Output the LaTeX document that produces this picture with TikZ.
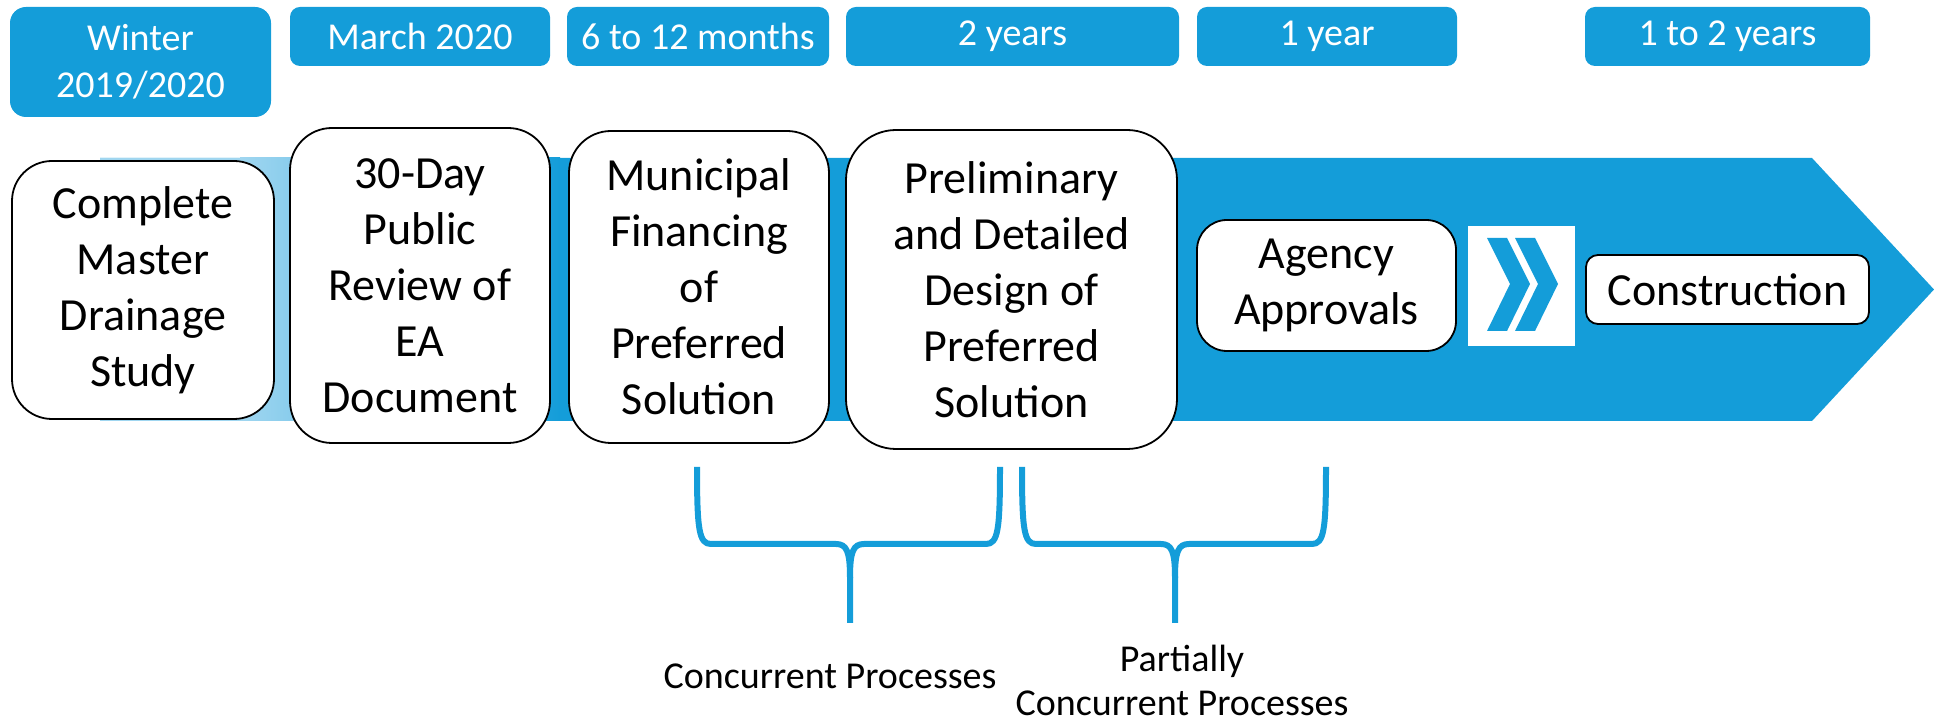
\documentclass[tikz,border=0pt]{standalone}
\usepackage{fontspec}
\setmainfont{Carlito}
\definecolor{flowblue}{RGB}{20,157,217}
\definecolor{flowlight}{RGB}{160,214,240}
\tikzset{
  stage/.style={rectangle, rounded corners=20pt, draw=black, line width=0.9pt,
    fill=white, align=center, inner sep=2pt, font=\fontsize{23}{28}\selectfont},
  period/.style={rectangle, rounded corners=5pt, fill=flowblue, text=white,
    align=center, inner sep=0pt, font=\fontsize{19}{23.5}\selectfont},
  brace/.style={draw=flowblue, line width=3pt, line join=round},
  note/.style={align=center, font=\fontsize{19}{22}\selectfont},
}

\begin{document}
\begin{tikzpicture}[x=0.5pt, y=-0.5pt]
  \useasboundingbox (0,0) rectangle (1934,726);

  % big arrow behind the stages
  \fill[flowblue] (100,158) -- (1812,158) -- (1934,289.5) -- (1812,421) -- (100,421) -- cycle;
  \fill[flowlight] (100,158) rectangle (240,421);
  \shade[left color=flowlight, right color=flowblue] (240,158) rectangle (560,421);

  % time spans on top
  \node[period, rounded corners=8pt, minimum width=130.5pt, minimum height=55pt] (winter) at (140.5,62) {Winter\\2019/2020};
  \node[period, minimum width=130pt, minimum height=29.5pt] (march) at (420,36.5) {March 2020};
  \node[period, minimum width=131pt, minimum height=29.5pt] (months) at (698,36.5) {6 to 12 months};
  \node[period, minimum width=166.5pt, minimum height=29.5pt] (twoyears) at (1012.5,36.5) {2 years};
  \node[period, minimum width=130pt, minimum height=29.5pt] (oneyear) at (1327,36.5) {1 year};
  \node[period, minimum width=142.5pt, minimum height=29.5pt] (onetotwo) at (1727.5,36.5) {1 to 2 years};

  % stages
  \node[stage, minimum width=131pt, minimum height=129pt] (study) at (143,290) {Complete\\Master\\Drainage\\Study};
  \node[stage, rounded corners=21pt, minimum width=130pt, minimum height=157.5pt] (review) at (420,285.5) {30-Day\\Public\\Review of\\EA\\Document};
  \node[stage, rounded corners=21pt, minimum width=130pt, minimum height=156pt] (financing) at (699,287) {Municipal\\Financing\\of\\Preferred\\Solution};
  \node[stage, rounded corners=25pt, minimum width=165.5pt, minimum height=159.5pt] (design) at (1011.5,289.5) {Preliminary\\and Detailed\\Design of\\Preferred\\Solution};
  \node[stage, rounded corners=15pt, minimum width=129.5pt, minimum height=65.5pt] (approvals) at (1326.5,285.5) {Agency\\Approvals};
  \node[fill=white, minimum width=53.5pt, minimum height=60pt, inner sep=0pt] (next) at (1521.5,286) {};
  \node[stage, rounded corners=6pt, minimum width=141.5pt, minimum height=34.5pt] (construction) at (1727.5,289.5) {Construction};

  % double chevron
  \foreach \dx in {0,28}
    \fill[flowblue] (1487+\dx,238) -- (1507+\dx,238) -- (1530+\dx,284) -- (1507+\dx,331)
      -- (1487+\dx,331) -- (1510+\dx,284) -- cycle;

  % braces under the overlapping stages
  \foreach \l/\m/\r in {697/850/1000, 1022/1175/1326} {
    \draw[brace] (\l,467) .. controls (\l,530) and (\l+2,544) .. (\l+14,544) -- (\m-14,544)
      .. controls (\m-3,544) and (\m,552) .. (\m,578) -- (\m,623);
    \draw[brace] (\r,467) .. controls (\r,530) and (\r-2,544) .. (\r-14,544) -- (\m+14,544)
      .. controls (\m+3,544) and (\m,552) .. (\m,578);
  }
  \node[note] (concurrent) at (830,676) {Concurrent Processes};
  \node[note] (partial) at (1182,680) {Partially\\Concurrent Processes};
\end{tikzpicture}
\end{document}
